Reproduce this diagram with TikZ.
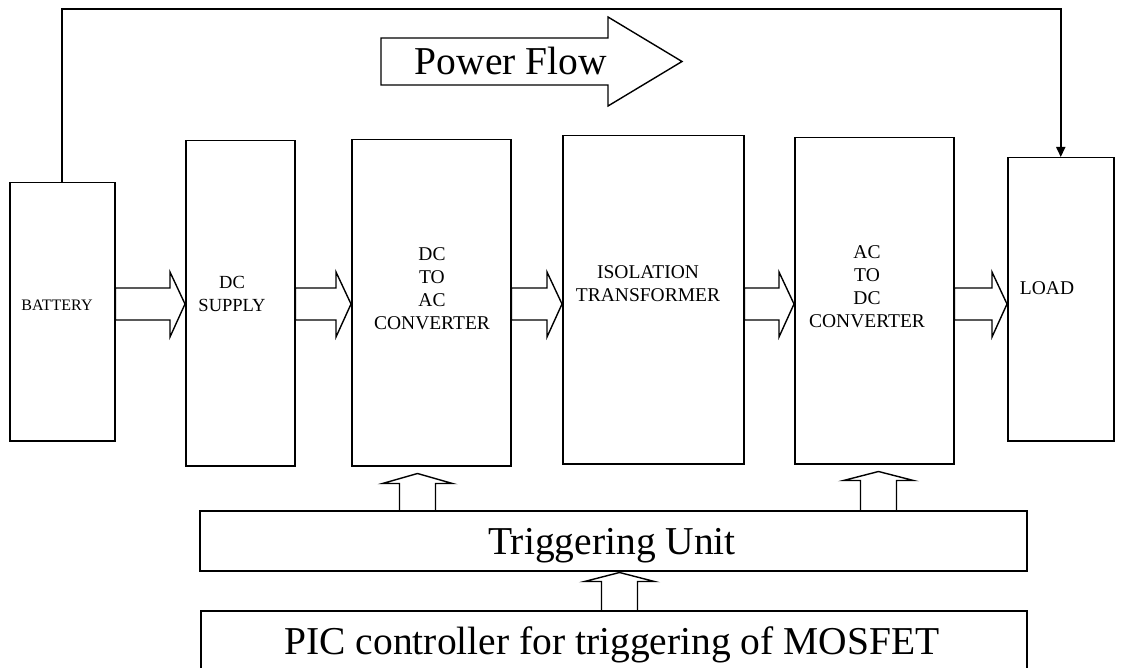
\documentclass[tikz,border=0pt]{standalone}
\usepackage{fontspec}
\setmainfont{Liberation Serif}
\usetikzlibrary{arrows.meta,calc}

% hollow block arrow between two boxes placed side by side
\newcommand\hflow[2]{%
  \draw[hol] let \p1=(#1.east), \p2=(#2.west) in
    (\x1,-288pt) -- (\x2-15pt,-288pt) -- (\x2-15pt,-272pt) -- (\x2,-304pt)
    -- (\x2-15pt,-337pt) -- (\x2-15pt,-320pt) -- (\x1,-320pt) -- cycle;}

\begin{document}
\begin{tikzpicture}[x=1pt,y=-1pt,
  blk/.style={draw, line width=1.5pt, inner sep=0pt, anchor=north west},
  hol/.style={draw, line width=1.4pt, line join=miter},
  lbl/.style={font=\fontsize{19.5}{23}\selectfont, align=center, inner sep=0pt},
  big/.style={font=\fontsize{39.5}{41}\selectfont, inner sep=0pt, anchor=base}]
\useasboundingbox (0,0) rectangle (1121,668);
\clip (0,0) rectangle (1121,668);

% main power chain
\node[blk, minimum width=105pt, minimum height=258pt] (bat)  at (9,182)   {};
\node[blk, minimum width=109pt, minimum height=325pt] (dcs)  at (185,140) {};
\node[blk, minimum width=159pt, minimum height=326pt] (dcac) at (351,139) {};
\node[blk, minimum width=181pt, minimum height=328pt] (iso)  at (562,135) {};
\node[blk, minimum width=159pt, minimum height=326pt] (acdc) at (794,137) {};
\node[blk, minimum width=106pt, minimum height=283pt] (load) at (1007,157) {};

% control section
\node[blk, minimum width=827pt, minimum height=60pt] (trig) at (199,510) {};
\node[blk, minimum width=826pt, minimum height=72pt] (pic)  at (200,610) {};

% box labels
\node[lbl, font=\fontsize{16}{18}\selectfont] (bat-t) at (57,305) {BATTERY};
\node[lbl, font=\fontsize{18.5}{23}\selectfont] (dcs-t) at (232,293.5) {DC\\SUPPLY};
\node[lbl] (dcac-t) at (432,289) {DC\\TO\\AC\\CONVERTER};
\node[lbl] (iso-t)  at (648,283.5) {ISOLATION\\TRANSFORMER};
\node[lbl] (acdc-t) at (867,287) {AC\\TO\\DC\\CONVERTER};
\node[lbl] (load-t) at (1047,288) {LOAD};

% power flow indicator
\draw[hol] (381,38) -- (608,38) -- (608,17) -- (682,61.5) -- (608,106)
  -- (608,85) -- (381,85) -- cycle;
\node[big] (pf-t) at (511,75) {Power Flow};

\node[big] (trig-t) at (612,554) {Triggering Unit};
\node[big] (pic-t)  at (612,654) {PIC controller for triggering of MOSFET};

% hollow arrows along the chain
\hflow{bat}{dcs}
\hflow{dcs}{dcac}
\hflow{dcac}{iso}
\hflow{iso}{acdc}
\hflow{acdc}{load}

% hollow arrows from the control section
\draw[hol] let \p1=(trig.north), \p2=(dcac.south) in
  (399.5pt,\y1) -- (399.5pt,\y2-17pt) -- (382.5pt,\y2-17pt) -- (417.5pt,\y2-7pt)
  -- (452.5pt,\y2-17pt) -- (435.5pt,\y2-17pt) -- (435.5pt,\y1);
\draw[hol] let \p1=(trig.north), \p2=(acdc.south) in
  (860.5pt,\y1) -- (860.5pt,\y2-16pt) -- (843.5pt,\y2-16pt) -- (878.5pt,\y2-7pt)
  -- (913.5pt,\y2-16pt) -- (896.5pt,\y2-16pt) -- (896.5pt,\y1);
\draw[hol] let \p1=(pic.north), \p2=(trig.south) in
  (601.5pt,\y1) -- (601.5pt,\y2-10pt) -- (584.5pt,\y2-10pt) -- (619.5pt,\y2-1pt)
  -- (654.5pt,\y2-10pt) -- (637.5pt,\y2-10pt) -- (637.5pt,\y1);

% battery to load link
\draw[line width=1.7pt, -{Triangle[width=9pt,length=10pt]}]
  (bat.north) -- ++(0,-173) -| (load.north);
\end{tikzpicture}
\end{document}
